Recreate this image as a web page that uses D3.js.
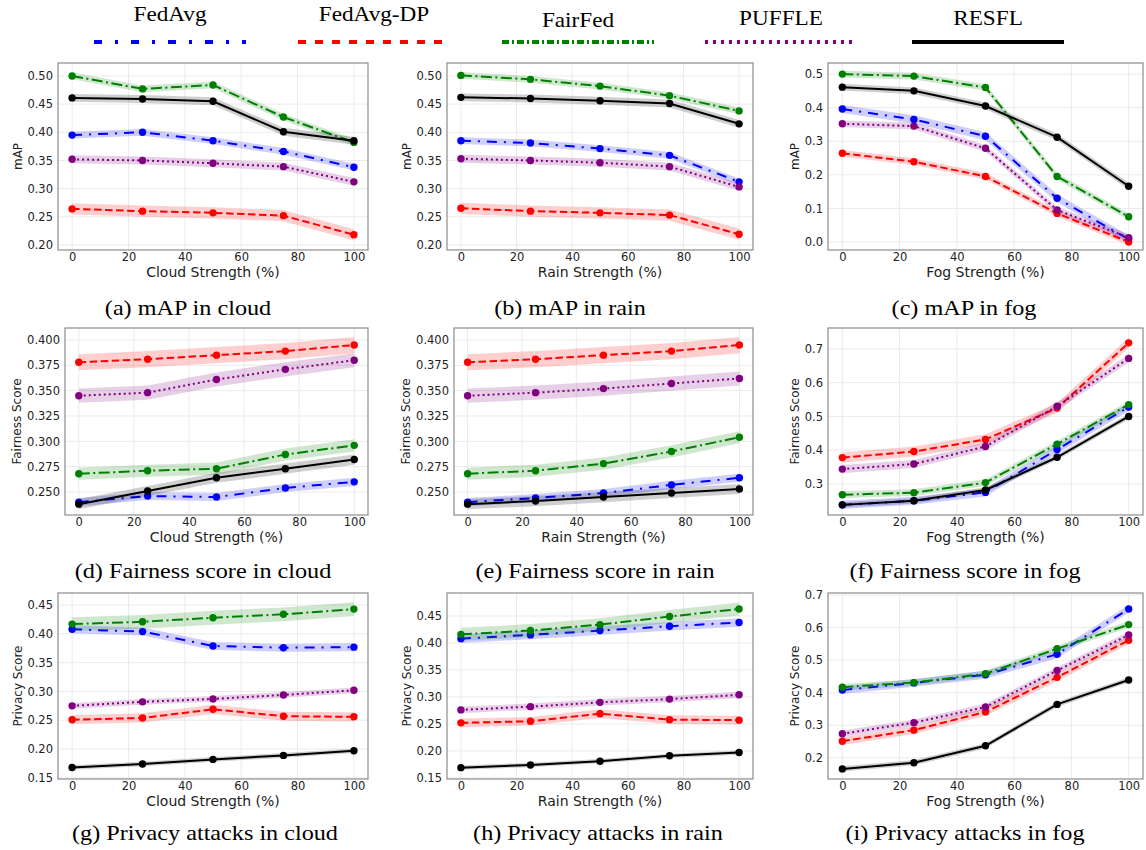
<!DOCTYPE html>
<html>
<head>
<meta charset="utf-8">
<script src="https://cdn.jsdelivr.net/npm/d3@7"></script>
<style>
  body { margin: 0; background: #fff; }
  svg { display: block; }
</style>
</head>
<body>
<div class="container"></div>
<script>
var width = 1146,
    height = 850;

var strengths = [0, 25, 50, 75, 100];
var methods = ['FedAvg', 'FedAvg-DP', 'FairFed', 'PUFFLE', 'RESFL'];
var colors = ['#0000ff', '#ff0000', '#008000', '#800080', '#000000'];
var dashes = ['10,7,2,7', '7.5,3.5', '11,3.5,2,3.5', '2,3', null];
var legendDashes = ['8,13,3,13', '8,9', '7,3,2,3', '3,5', null];
var xTicks = [0, 20, 40, 60, 80, 100];

// each panel: one row per method, in the order of `methods`
var mapCloud = [
    [0.395, 0.400, 0.385, 0.366, 0.338],
    [0.264, 0.260, 0.257, 0.252, 0.218],
    [0.500, 0.477, 0.484, 0.427, 0.382],
    [0.352, 0.350, 0.345, 0.339, 0.312],
    [0.461, 0.459, 0.455, 0.401, 0.385]
];
var mapRain = [
    [0.385, 0.381, 0.371, 0.359, 0.312],
    [0.265, 0.260, 0.257, 0.253, 0.219],
    [0.501, 0.494, 0.482, 0.465, 0.438],
    [0.353, 0.350, 0.346, 0.339, 0.303],
    [0.462, 0.460, 0.456, 0.451, 0.415]
];
var mapFog = [
    [0.396, 0.365, 0.315, 0.130, 0.008],
    [0.264, 0.239, 0.195, 0.085, 0.000],
    [0.500, 0.494, 0.460, 0.195, 0.075],
    [0.352, 0.345, 0.279, 0.095, 0.013],
    [0.461, 0.450, 0.405, 0.312, 0.166]
];
var fairCloud = [
    [0.240, 0.246, 0.245, 0.254, 0.260],
    [0.378, 0.381, 0.385, 0.389, 0.395],
    [0.268, 0.271, 0.273, 0.287, 0.296],
    [0.345, 0.348, 0.361, 0.371, 0.380],
    [0.238, 0.251, 0.264, 0.273, 0.282]
];
var fairRain = [
    [0.240, 0.244, 0.249, 0.257, 0.264],
    [0.378, 0.381, 0.385, 0.389, 0.395],
    [0.268, 0.271, 0.278, 0.290, 0.304],
    [0.345, 0.348, 0.352, 0.357, 0.362],
    [0.238, 0.241, 0.245, 0.249, 0.253]
];
var fairFog = [
    [0.238, 0.250, 0.275, 0.402, 0.528],
    [0.378, 0.396, 0.432, 0.525, 0.718],
    [0.268, 0.274, 0.304, 0.418, 0.535],
    [0.344, 0.359, 0.411, 0.530, 0.672],
    [0.238, 0.250, 0.282, 0.379, 0.500]
];
var privCloud = [
    [0.408, 0.404, 0.379, 0.376, 0.377],
    [0.251, 0.254, 0.269, 0.257, 0.256],
    [0.417, 0.421, 0.428, 0.434, 0.443],
    [0.275, 0.282, 0.287, 0.294, 0.302],
    [0.168, 0.174, 0.182, 0.189, 0.197]
];
var privRain = [
    [0.408, 0.415, 0.423, 0.431, 0.438],
    [0.252, 0.255, 0.269, 0.258, 0.257],
    [0.416, 0.423, 0.434, 0.449, 0.463],
    [0.276, 0.282, 0.290, 0.296, 0.304],
    [0.169, 0.174, 0.181, 0.191, 0.197]
];
var privFog = [
    [0.408, 0.430, 0.455, 0.518, 0.657],
    [0.251, 0.285, 0.341, 0.447, 0.561],
    [0.417, 0.431, 0.458, 0.535, 0.609],
    [0.274, 0.308, 0.356, 0.468, 0.577],
    [0.166, 0.185, 0.237, 0.364, 0.439]
];

// half width of the shaded band, per method
var mapCloudBand = [0.006, 0.010, 0.006, 0.007, 0.007];
var mapRainBand = [0.006, 0.010, 0.006, 0.007, 0.007];
var mapFogBand = [0.012, 0.010, 0.010, 0.010, 0.010];
var fairCloudBand = [0.004, 0.008, 0.006, 0.007, 0.005];
var fairRainBand = [0.004, 0.008, 0.006, 0.007, 0.005];
var fairFogBand = [0.012, 0.015, 0.010, 0.012, 0.008];
var privCloudBand = [0.007, 0.008, 0.012, 0.005, 0.004];
var privRainBand = [0.008, 0.008, 0.012, 0.006, 0.004];
var privFogBand = [0.012, 0.012, 0.010, 0.010, 0.008];

var ticksMap = [0.20, 0.25, 0.30, 0.35, 0.40, 0.45, 0.50];
var ticksMapFog = [0.0, 0.1, 0.2, 0.3, 0.4, 0.5];
var ticksFair = [0.250, 0.275, 0.300, 0.325, 0.350, 0.375, 0.400];
var ticksFairFog = [0.3, 0.4, 0.5, 0.6, 0.7];
var ticksPriv = [0.15, 0.20, 0.25, 0.30, 0.35, 0.40, 0.45];
var ticksPrivFog = [0.2, 0.3, 0.4, 0.5, 0.6, 0.7];

var panels = [
    { v: mapCloud, band: mapCloudBand, ticks: ticksMap, fmt: '.2f', dom: [0.191, 0.523], xl: 'Cloud Strength (%)', yl: 'mAP', cap: '(a) mAP in cloud', cx: 188 },
    { v: mapRain, band: mapRainBand, ticks: ticksMap, fmt: '.2f', dom: [0.191, 0.523], xl: 'Rain Strength (%)', yl: 'mAP', cap: '(b) mAP in rain', cx: 570 },
    { v: mapFog, band: mapFogBand, ticks: ticksMapFog, fmt: '.1f', dom: [-0.024, 0.533], xl: 'Fog Strength (%)', yl: 'mAP', cap: '(c) mAP in fog', cx: 964 },
    { v: fairCloud, band: fairCloudBand, ticks: ticksFair, fmt: '.3f', dom: [0.2273, 0.4118], xl: 'Cloud Strength (%)', yl: 'Fairness Score', cap: '(d) Fairness score in cloud', cx: 203 },
    { v: fairRain, band: fairRainBand, ticks: ticksFair, fmt: '.3f', dom: [0.2273, 0.4118], xl: 'Rain Strength (%)', yl: 'Fairness Score', cap: '(e) Fairness score in rain', cx: 595 },
    { v: fairFog, band: fairFogBand, ticks: ticksFairFog, fmt: '.1f', dom: [0.208, 0.762], xl: 'Fog Strength (%)', yl: 'Fairness Score', cap: '(f) Fairness score in fog', cx: 965 },
    { v: privCloud, band: privCloudBand, ticks: ticksPriv, fmt: '.2f', dom: [0.148, 0.471], xl: 'Cloud Strength (%)', yl: 'Privacy Score', cap: '(g) Privacy attacks in cloud', cx: 205 },
    { v: privRain, band: privRainBand, ticks: ticksPriv, fmt: '.2f', dom: [0.148, 0.4926], xl: 'Rain Strength (%)', yl: 'Privacy Score', cap: '(h) Privacy attacks in rain', cx: 598 },
    { v: privFog, band: privFogBand, ticks: ticksPrivFog, fmt: '.1f', dom: [0.135, 0.706], xl: 'Fog Strength (%)', yl: 'Privacy Score', cap: '(i) Privacy attacks in fog', cx: 965 }
];

// frame boxes of the 3x3 grid
var rowTop = [63, 328, 593],
    rowBottom = [250, 515, 779],
    capBase = [315, 578, 840],
    colLeft = [[58, 447, 828], [65, 454, 828], [58, 447, 828]],
    colRight = [368, 753, 1143];

var sans = '"DejaVu Sans", sans-serif',
    serif = '"Liberation Serif", "Times New Roman", serif';

var drawPanel = (svg, p, idx) => {
    var r = Math.floor(idx / 3), c = idx % 3;
    var box = { left: colLeft[r][c], right: colRight[c], top: rowTop[r], bottom: rowBottom[r] };
    var x = d3.scaleLinear().domain([-5, 105]).range([box.left, box.right]);
    var y = d3.scaleLinear().domain(p.dom).range([box.bottom, box.top]);
    var g = svg.append('g');

    var clipId = 'clip' + idx;
    g.append('clipPath').attr('id', clipId)
        .append('rect')
        .attr('x', box.left).attr('y', box.top)
        .attr('width', box.right - box.left).attr('height', box.bottom - box.top);

    // grid
    g.selectAll('.vg').data(xTicks).enter().append('line')
        .attr('x1', (d) => x(d)).attr('x2', (d) => x(d))
        .attr('y1', box.top).attr('y2', box.bottom)
        .attr('stroke', '#ebebeb').attr('stroke-width', 1);
    g.selectAll('.hg').data(p.ticks).enter().append('line')
        .attr('x1', box.left).attr('x2', box.right)
        .attr('y1', (d) => y(d)).attr('y2', (d) => y(d))
        .attr('stroke', '#ebebeb').attr('stroke-width', 1);

    var plot = g.append('g').attr('clip-path', 'url(#' + clipId + ')');
    var area = d3.area()
        .x((d, i) => x(strengths[i]))
        .y0((d) => y(d[0]))
        .y1((d) => y(d[1]));
    var line = d3.line()
        .x((d, i) => x(strengths[i]))
        .y((d) => y(d));

    p.v.forEach((vals, m) => {
        var s = p.band[m];
        plot.append('path')
            .attr('d', area(vals.map((d) => [d - s, d + s])))
            .attr('fill', colors[m]).attr('fill-opacity', 0.19);
        plot.append('path')
            .attr('d', line(vals))
            .attr('fill', 'none')
            .attr('stroke', colors[m])
            .attr('stroke-width', 2)
            .attr('stroke-dasharray', dashes[m]);
        plot.selectAll('.dot' + m).data(vals).enter().append('circle')
            .attr('cx', (d, i) => x(strengths[i]))
            .attr('cy', (d) => y(d))
            .attr('r', 3.7)
            .attr('fill', colors[m]);
    });

    g.append('rect')
        .attr('x', box.left).attr('y', box.top)
        .attr('width', box.right - box.left).attr('height', box.bottom - box.top)
        .attr('fill', 'none').attr('stroke', '#8c8c8c').attr('stroke-width', 1.2);

    var xAxis = g.append('g')
        .attr('transform', 'translate(0,' + box.bottom + ')')
        .call(d3.axisBottom(x).tickValues(xTicks).tickSize(0).tickPadding(2.8));
    var yAxis = g.append('g')
        .attr('transform', 'translate(' + box.left + ',0)')
        .call(d3.axisLeft(y).tickValues(p.ticks).tickFormat(d3.format(p.fmt)).tickSize(0).tickPadding(5));
    [xAxis, yAxis].forEach((a) => {
        a.select('.domain').remove();
        a.selectAll('text')
            .style('font-family', sans)
            .style('font-size', '11.5px')
            .attr('fill', '#222');
    });

    g.append('text')
        .attr('x', (box.left + box.right) / 2)
        .attr('y', box.bottom + 27.2)
        .attr('text-anchor', 'middle')
        .style('font-family', sans).style('font-size', '14px')
        .attr('fill', '#222')
        .text(p.xl);

    var bb = yAxis.node().getBBox();
    var ly = (box.top + box.bottom) / 2;
    var lx = box.left + bb.x - 10;
    g.append('text')
        .attr('transform', 'translate(' + lx + ',' + ly + ') rotate(-90)')
        .attr('dy', '0.35em')
        .attr('text-anchor', 'middle')
        .style('font-family', sans).style('font-size', '12px')
        .attr('fill', '#222')
        .text(p.yl);

    svg.append('text')
        .attr('transform', 'translate(' + p.cx + ',' + capBase[r] + ') scale(1.1,1)')
        .attr('text-anchor', 'middle')
        .style('font-family', serif).style('font-size', '22px')
        .attr('fill', '#000')
        .text(p.cap);
};

var drawLegend = (svg) => {
    var lx = [170, 374, 578, 781, 988],
        ly = [21, 21, 27, 25, 25];
    var items = svg.append('g').selectAll('g').data(methods).enter().append('g');
    items.append('text')
        .attr('transform', (d, i) => 'translate(' + lx[i] + ',' + ly[i] + ') scale(1.08,1)')
        .attr('text-anchor', 'middle')
        .style('font-family', serif).style('font-size', '21.5px')
        .text((d) => d);
    items.append('line')
        .attr('x1', (d, i) => lx[i] - 76).attr('x2', (d, i) => lx[i] + 76)
        .attr('y1', 42).attr('y2', 42)
        .attr('stroke', (d, i) => colors[i])
        .attr('stroke-width', 4)
        .attr('stroke-dasharray', (d, i) => legendDashes[i]);
};

window.onload = () => {
    var svg = d3.select('.container').append('svg')
        .attr('width', width).attr('height', height);
    drawLegend(svg);
    panels.forEach((p, i) => drawPanel(svg, p, i));
};
</script>
</body>
</html>
